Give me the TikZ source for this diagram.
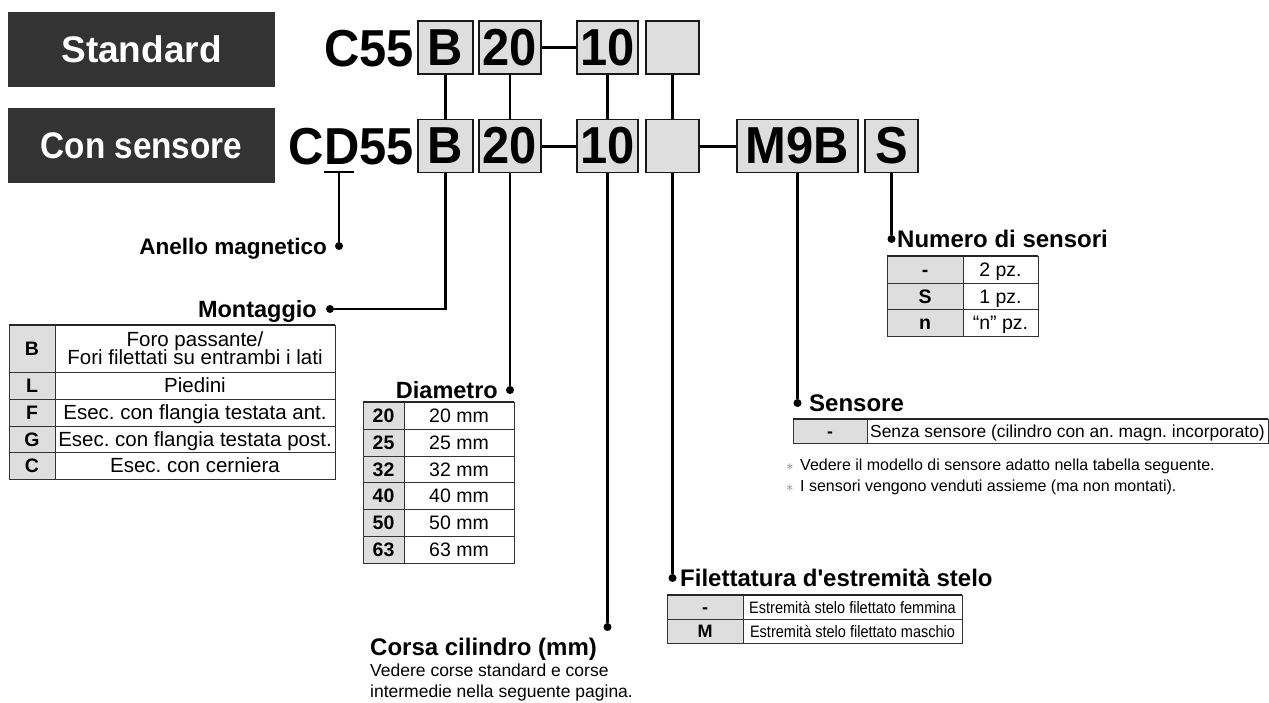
\documentclass[tikz,border=0pt]{standalone}
\usepackage{fontspec}
\setmainfont{Liberation Sans}
\newfontfamily\qfont{Liberation Sans}
\usepackage{graphicx}
\definecolor{boxfill}{RGB}{222,222,222}
\definecolor{darkbg}{RGB}{51,51,51}
\definecolor{lineclr}{RGB}{25,25,25}
\newcommand{\myfs}[1]{\fontsize{#1}{#1}\selectfont}
\newcommand{\cdx}[1]{\scalebox{0.94}[1]{#1}}
\begin{document}
\frenchspacing
\begin{tikzpicture}[x=1pt,y=-1pt,
  titlebox/.style={fill=darkbg, text=white, inner sep=0pt, minimum width=267pt, font=\myfs{37}\bfseries},
  codebox/.style={draw=lineclr, line width=1.7pt, fill=boxfill, inner sep=0pt, minimum height=53pt, font=\myfs{52}\bfseries},
  codetxt/.style={anchor=base east, inner sep=0pt, font=\myfs{52}\bfseries},
  conn/.style={draw=black, line width=2.2pt},
  dashline/.style={draw=black, line width=3pt},
  dotn/.style={circle, fill=black, inner sep=0pt, minimum size=8pt},
  headE/.style={anchor=base east, inner sep=0pt, font=\myfs{#1}\bfseries},
  headW/.style={anchor=base west, inner sep=0pt, font=\myfs{#1}\bfseries},
  tline/.style={draw=black!80, line width=0.9pt},
  ttop/.style={draw=black!85, line width=1.8pt},
  keyt/.style={anchor=base, inner sep=0pt, font=\myfs{#1}\bfseries},
  valt/.style={anchor=base, inner sep=0pt, font=\myfs{#1}},
  note/.style={anchor=base west, inner sep=0pt, font=\myfs{16}},
  subnote/.style={anchor=base west, inner sep=0pt, font=\myfs{17.5}}
]
\useasboundingbox (0,0) rectangle (1269,702);

% title boxes
\node[titlebox, minimum height=75pt] (std) at (141.5,49.5) {Standard};
\node[titlebox, minimum height=75pt] (sen) at (141.5,145.5) {\scalebox{0.9}[1]{Con sensore}};

% code text
\node[codetxt] (c55) at (414,66) {\cdx{C55}};
\node[codetxt] (cd55) at (414,164.6) {\cdx{CD55}};

% top row boxes
\node[codebox, minimum width=55pt] (tB) at (445.5,47.5) {\cdx{B}};
\node[codebox, minimum width=62pt] (t20) at (510,47.5) {\cdx{20}};
\node[codebox, minimum width=61pt] (t10) at (607.5,47.5) {\cdx{10}};
\node[codebox, minimum width=53pt] (tE) at (672.5,47.5) {};
% bottom row boxes
\node[codebox, minimum width=55pt] (bB) at (445.5,146) {\cdx{B}};
\node[codebox, minimum width=62pt] (b20) at (510,146) {\cdx{20}};
\node[codebox, minimum width=61pt] (b10) at (607.5,146) {\cdx{10}};
\node[codebox, minimum width=53pt] (bE) at (672.5,146) {};
\node[codebox, minimum width=121pt] (bM) at (797.5,146) {\cdx{M9B}};
\node[codebox, minimum width=53pt] (bS) at (891.5,146) {\cdx{S}};

% connectors between rows and dashes
\draw[conn] (tB.south) -- (bB.north);
\draw[conn] (t20.south) -- (b20.north);
\draw[conn] (t10.south) -- (b10.north);
\draw[conn] (tE.south) -- (bE.north);
\draw[dashline] (t20.east) -- (t10.west);
\draw[dashline] (b20.east) -- (b10.west);
\draw[dashline] (bE.east) -- (bM.west);

% D underline
\coordinate (du1) at (324,172);
\coordinate (du2) at (354,172);
\coordinate (dum) at (339,172);
\draw[line width=2.2pt] (du1) -- (du2);

% dots
\node[dotn] (dAn) at (339,246) {};
\node[dotn] (dMo) at (330,309) {};
\node[dotn] (dDi) at (510,390) {};
\node[dotn] (dCo) at (607.5,627) {};
\node[dotn] (dFi) at (672.5,578) {};
\node[dotn] (dSe) at (797.5,403) {};
\node[dotn] (dNu) at (891.5,239) {};

\draw[conn] (dum) -- (dAn);
\draw[conn] (bB.south) |- (dMo);
\draw[conn] (b20.south) -- (dDi);
\draw[conn] (b10.south) -- (dCo);
\draw[conn] (bE.south) -- (dFi);
\draw[conn] (bM.south) -- (dSe);
\draw[conn] (bS.south) -- (dNu);

% headings
\node[headE=22.5] (hAn) at (327,254) {Anello magnetico};
\node[headE=23.5] (hMo) at (317,317.5) {Montaggio};
\node[headE=23.5] (hDi) at (498,398.5) {Diametro};
\node[headW=24] (hNu) at (897,247.5) {Numero di sensori};
\node[headW=24] (hSe) at (809,411.5) {Sensore};
\node[headW=24] (hFi) at (680,586.5) {Filettatura d{\qfont\bfseries '}estremità stelo};
\node[headW=24] (hCo) at (370,655.5) {Corsa cilindro (mm)};
\node[subnote] (co1) at (370,676.3) {Vedere corse standard e corse};
\node[subnote] (co2) at (370,697) {intermedie nella seguente pagina.};

% Montaggio table
\fill[boxfill] (9,325) rectangle (55,479);
\draw[tline] (9,325) rectangle (335,479);
\draw[tline] (55,325) -- (55,479);
\foreach \yy in {372,399,426,452} \draw[tline] (9,\yy) -- (335,\yy);
\draw[ttop] (9,325) -- (335,325);
\node[keyt=19.5] (mkB) at (32,355.5) {B};
\node[keyt=19.5] (mkL) at (32,392.5) {L};
\node[keyt=19.5] (mkF) at (32,419.5) {F};
\node[keyt=19.5] (mkG) at (32,446) {G};
\node[keyt=19.5] (mkC) at (32,472.5) {C};
\node[valt=20.5] (mvB1) at (195,346.5) {Foro passante/};
\node[valt=20.5] (mvB2) at (195,364.5) {Fori filettati su entrambi i lati};
\node[valt=20.5] (mvL) at (195,392.8) {Piedini};
\node[valt=20.5] (mvF) at (195,419.8) {Esec. con flangia testata ant.};
\node[valt=20.5] (mvG) at (195,446.3) {Esec. con flangia testata post.};
\node[valt=20.5] (mvC) at (195,472.8) {Esec. con cerniera};

% Diametro table
\fill[boxfill] (363,402) rectangle (404,563);
\draw[tline] (363,402) rectangle (514,563);
\draw[tline] (404,402) -- (404,563);
\foreach \yy in {429,456,482,509,536} \draw[tline] (363,\yy) -- (514,\yy);
\draw[ttop] (363,402) -- (514,402);
\node[keyt=19.5] (dk1) at (383.5,422.5) {20};
\node[keyt=19.5] (dk2) at (383.5,449.5) {25};
\node[keyt=19.5] (dk3) at (383.5,476) {32};
\node[keyt=19.5] (dk4) at (383.5,502.5) {40};
\node[keyt=19.5] (dk5) at (383.5,529.5) {50};
\node[keyt=19.5] (dk6) at (383.5,556.5) {63};
\node[valt=19.5] (dv1) at (459,422.5) {20 mm};
\node[valt=19.5] (dv2) at (459,449.5) {25 mm};
\node[valt=19.5] (dv3) at (459,476) {32 mm};
\node[valt=19.5] (dv4) at (459,502.5) {40 mm};
\node[valt=19.5] (dv5) at (459,529.5) {50 mm};
\node[valt=19.5] (dv6) at (459,556.5) {63 mm};

% Numero di sensori table
\fill[boxfill] (887,256) rectangle (963,336);
\draw[tline] (887,256) rectangle (1038,336);
\draw[tline] (963,256) -- (963,336);
\foreach \yy in {283,309} \draw[tline] (887,\yy) -- (1038,\yy);
\draw[ttop] (887,256) -- (1038,256);
\node[keyt=19.5] (nk1) at (925,276.5) {-};
\node[keyt=19.5] (nk2) at (925,303) {S};
\node[keyt=19.5] (nk3) at (925,329.5) {n};
\node[valt=19.5] (nv1) at (1000.5,276.5) {2 pz.};
\node[valt=19.5] (nv2) at (1000.5,303) {1 pz.};
\node[valt=19.5] (nv3) at (1000.5,329.5) {“n” pz.};

% Sensore table
\fill[boxfill] (793,419) rectangle (867,443);
\draw[tline] (793,419) rectangle (1268,443);
\draw[tline] (867,419) -- (867,443);
\draw[ttop] (793,419) -- (1268,419);
\node[keyt=17.5] (sk1) at (830,437.3) {-};
\node[valt=17.4] (sv1) at (1067.5,437.3) {Senza sensore (cilindro con an. magn. incorporato)};
\node[anchor=base, inner sep=0pt, text=black!55, font=\myfs{14}] (n1s) at (790,470.7) {$\ast$};
\node[note] (n1) at (800,470.7) {Vedere il modello di sensore adatto nella tabella seguente.};
\node[anchor=base, inner sep=0pt, text=black!55, font=\myfs{14}] (n2s) at (790,491.7) {$\ast$};
\node[note] (n2) at (800,491.7) {I sensori vengono venduti assieme (ma non montati).};

% Filettatura table
\fill[boxfill] (667,595) rectangle (743,643);
\draw[tline] (667,595) rectangle (962,643);
\draw[tline] (743,595) -- (743,643);
\draw[tline] (667,619) -- (962,619);
\draw[ttop] (667,595) -- (962,595);
\node[keyt=18] (fk1) at (705,613.5) {-};
\node[keyt=18] (fk2) at (705,637.5) {M};
\node[valt=16.5] (fv1) at (852.5,613) {\scalebox{0.88}[1]{Estremità stelo filettato femmina}};
\node[valt=16.5] (fv2) at (852.5,637) {\scalebox{0.88}[1]{Estremità stelo filettato maschio}};
\end{tikzpicture}
\end{document}
